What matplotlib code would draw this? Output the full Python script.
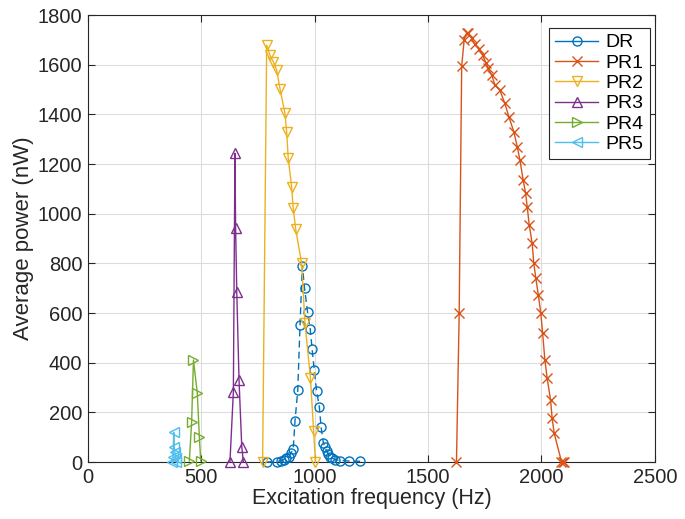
import matplotlib
matplotlib.use("Agg")
import matplotlib.pyplot as plt
from matplotlib.lines import Line2D

plt.rcParams['font.family'] = ['Liberation Sans', 'DejaVu Sans']

# Data
dr_f = [790, 835, 850, 865, 875, 885, 895, 905, 913, 925, 935, 945, 955, 968, 980,
        988, 998, 1008, 1020, 1028, 1038, 1045, 1052, 1060, 1068, 1078, 1090, 1110, 1150, 1200]
dr_p = [0, 2, 5, 10, 15, 21, 35, 52, 167, 288, 550, 790, 700, 605, 536,
        457, 369, 287, 223, 140, 77, 60, 45, 32, 22, 15, 10, 6, 4, 3]

pr1_f = [1625, 1637, 1648, 1659, 1670, 1677, 1692, 1706, 1725, 1740, 1755, 1765, 1780, 1795,
         1816, 1838, 1856, 1878, 1893, 1905, 1919, 1930, 1937, 1946, 1959, 1966, 1975, 1986,
         1997, 2005, 2015, 2025, 2040, 2047, 2056, 2088, 2095, 2100]
pr1_p = [0, 600, 1595, 1700, 1729, 1726, 1706, 1683, 1662, 1639, 1608, 1585, 1559, 1518,
         1498, 1445, 1391, 1330, 1270, 1216, 1136, 1082, 1028, 954, 880, 800, 740, 673,
         599, 518, 411, 337, 250, 176, 116, 2, 0, 0]

pr2_f = [770, 788, 802, 817, 832, 847, 868, 876, 883, 898, 905, 916, 942, 957, 981, 995, 1003]
pr2_p = [0, 1679, 1639, 1612, 1579, 1501, 1407, 1330, 1223, 1109, 1021, 937, 800, 558, 338, 125, 0]

pr3_f = [626, 641, 648, 651, 656, 666, 678, 685]
pr3_p = [0, 283, 1243, 941, 686, 330, 62, 0]

pr4_f = [447, 457, 465, 482, 491, 497]
pr4_p = [5, 162, 411, 277, 102, 5]

pr5_f = [370, 375, 378, 380, 383, 386, 390]
pr5_p = [0, 20, 120, 60, 40, 15, 0]

labels = ['DR', 'PR1', 'PR2', 'PR3', 'PR4', 'PR5']
colors = ['#0072BD', '#D95319', '#EDB120', '#7E2F8E', '#77AC30', '#4DBEEE']
markers = ['o', 'x', 'v', '^', '>', '<']
x_ticks = [0, 500, 1000, 1500, 2000, 2500]
y_ticks = [0, 200, 400, 600, 800, 1000, 1200, 1400, 1600, 1800]

fig = plt.figure(figsize=(6.85, 5.19), dpi=100)
ax = fig.add_axes([0.1285, 0.1098, 0.8275, 0.8612])

series = [(dr_f, dr_p), (pr1_f, pr1_p), (pr2_f, pr2_p), (pr3_f, pr3_p), (pr4_f, pr4_p), (pr5_f, pr5_p)]
handles = []
for i, (f, p) in enumerate(series):
    ls = (0, (5, 3)) if i == 0 else '-'
    ax.plot(f, p, linestyle=ls, color=colors[i], marker=markers[i], markersize=6.5,
            markerfacecolor='none', markeredgewidth=1.0, linewidth=1.0, zorder=3, clip_on=False)
    handles.append(Line2D([], [], linestyle='-', color=colors[i], marker=markers[i], markersize=6.5,
                          markerfacecolor='none', markeredgewidth=1.0, linewidth=1.0))

ax.set_xlim(0, 2500)
ax.set_ylim(0, 1800)
ax.set_xticks(x_ticks)
ax.set_yticks(y_ticks)
ax.tick_params(direction='in', length=5, width=0.8, labelsize=14.5, colors='#262626',
               top=True, right=True, pad=4)
ax.grid(True, color='#dcdcdc', linewidth=0.8)
ax.set_axisbelow(True)
for s in ax.spines.values():
    s.set_color('#262626')
    s.set_linewidth(0.8)

ax.set_xlabel('Excitation frequency (Hz)', fontsize=15.5, color='#262626', labelpad=1)
ax.set_ylabel('Average power (nW)', fontsize=16, color='#262626', labelpad=3)

leg = ax.legend(handles, labels, loc='upper right', bbox_to_anchor=(0.991, 0.971),
                fontsize=14, frameon=True, fancybox=False,
                edgecolor='#262626', framealpha=1, handlelength=2.2, handletextpad=0.4,
                labelspacing=0.14, borderpad=0.3, borderaxespad=0.0)
leg.get_frame().set_linewidth(0.8)

fig.savefig('out.png', dpi=100)
